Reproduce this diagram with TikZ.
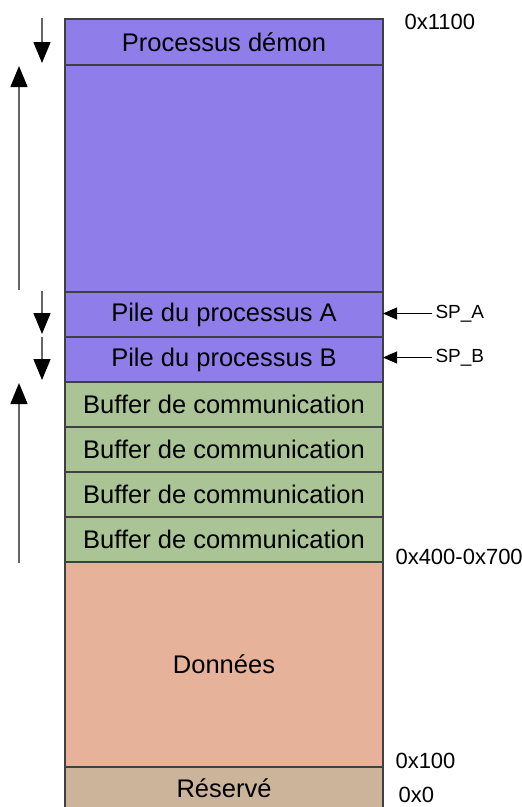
\documentclass[tikz,border=0pt]{standalone}
\usepackage{fontspec}
\setmainfont{Liberation Sans}
\usetikzlibrary{positioning}
\usetikzlibrary{calc}
\usetikzlibrary{arrows.meta}
\definecolor{demon}{RGB}{143,126,234}
\definecolor{buffer}{RGB}{170,196,150}
\definecolor{donnees}{RGB}{230,178,154}
\definecolor{reserve}{RGB}{203,180,154}
\definecolor{bord}{RGB}{64,64,64}

\begin{document}
\begin{tikzpicture}[x=1pt, y=-1pt,
  every zone/.style={draw=bord, line width=1.5pt, outer sep=0pt,
    minimum width=318pt, inner sep=0pt,
    font=\fontsize{25.5}{30}\selectfont},
  pile/.style={every zone, fill=demon, minimum height=45pt},
  buf/.style={every zone, fill=buffer, minimum height=45pt},
  adr/.style={anchor=west, font=\fontsize{22}{26}\selectfont},
  fleche/.style={draw=gray!80!black, line width=1.5pt,
    -{Triangle[length=21pt,width=17pt,black]}},
  sp/.style={draw=black, line width=1pt,
    -{Triangle[length=14pt,width=12pt,black]}}]
\useasboundingbox (0,0) rectangle (522,807);

% la pile de la memoire, de haut en bas
\node[every zone, fill=demon, minimum height=46pt, anchor=north west]
  (demon) at (65,19) {Processus démon};
\node[every zone, fill=demon, minimum height=227pt, below=0pt of demon]
  (libre) {};
\node[pile, below=0pt of libre] (pileA) {Pile du processus A};
\node[pile, below=0pt of pileA] (pileB) {Pile du processus B};
\node[buf, below=0pt of pileB] (buf1) {Buffer de communication};
\node[buf, below=0pt of buf1] (buf2) {Buffer de communication};
\node[buf, below=0pt of buf2] (buf3) {Buffer de communication};
\node[buf, below=0pt of buf3] (buf4) {Buffer de communication};
\node[every zone, fill=donnees, minimum height=205pt, below=0pt of buf4]
  (donnees) {Données};
\node[every zone, fill=reserve, minimum height=42pt, below=0pt of donnees]
  (reserve) {Réservé};

% adresses a droite
\node[adr] (a1100) at ($(demon.north east)+(18,3)$) {0x1100};
\node[adr] (a400) at ($(buf4.south east)+(9,-5)$) {0x400-0x700};
\node[adr] (a100) at ($(donnees.south east)+(9,-6)$) {0x100};
\node[adr] (a0) at ($(reserve.south east)+(12,-14)$) {0x0};

% pointeurs de pile
\node[adr, font=\fontsize{19}{22}\selectfont] (spA)
  at ($(pileA.east)+(49,-1)$) {SP\_A};
\node[adr, font=\fontsize{19}{22}\selectfont] (spB)
  at ($(pileB.east)+(49,-2)$) {SP\_B};
\draw[sp] (spA.west) -- (spA.west -| pileA.east);
\draw[sp] (spB.west) -- (spB.west -| pileB.east);

% sens de croissance
\draw[fleche] ($(demon.north west)+(-23,-1)$) -- ($(demon.south west)+(-23,-2)$);
\draw[fleche] ($(libre.south west)+(-46,-2)$) -- ($(libre.north west)+(-46,1)$);
\draw[fleche] ($(pileA.north west)+(-23,-1)$) -- ($(pileA.south west)+(-23,-3)$);
\draw[fleche] ($(pileB.north west)+(-23,0)$) -- ($(pileB.south west)+(-23,-2)$);
\draw[fleche] ($(buf4.south west)+(-46,1)$) -- ($(buf1.north west)+(-46,1)$);
\end{tikzpicture}
\end{document}
